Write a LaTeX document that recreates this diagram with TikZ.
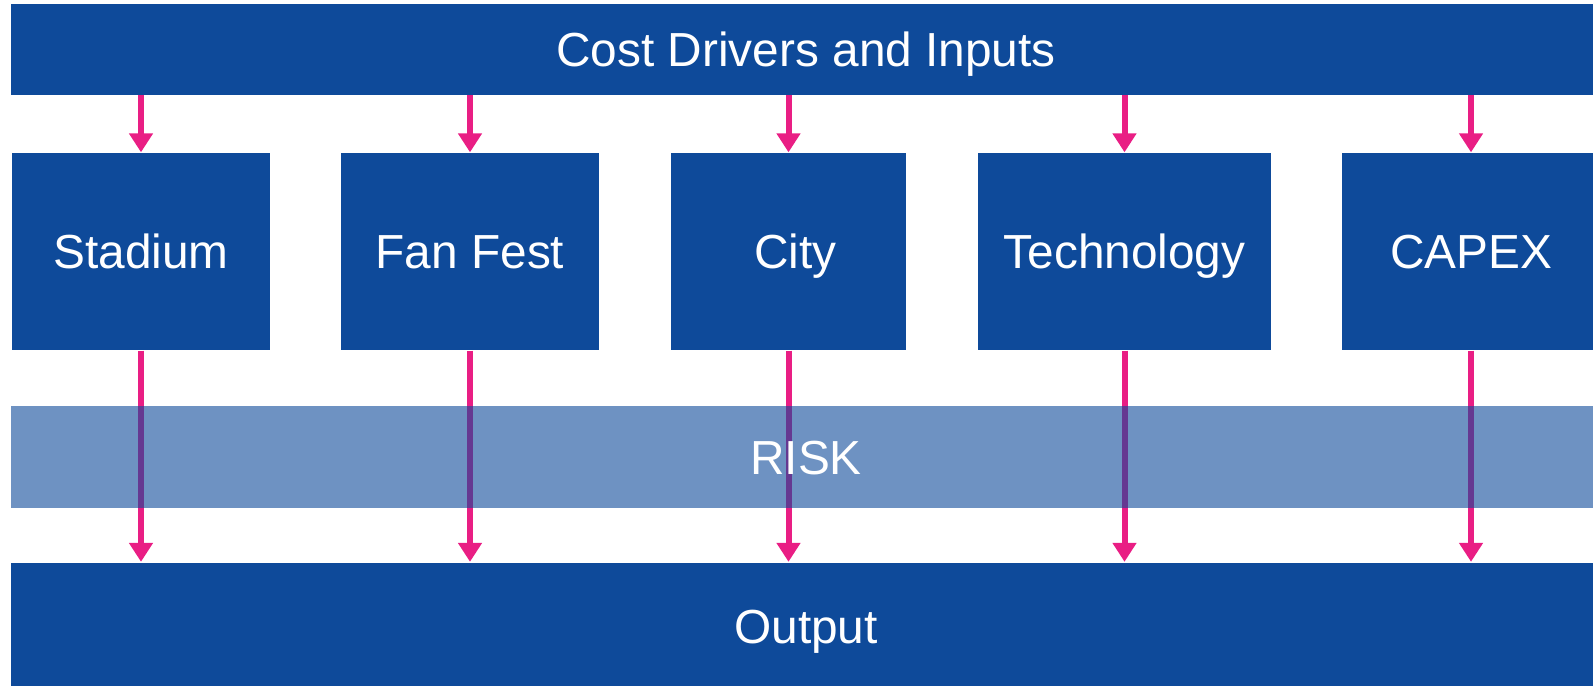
\documentclass[tikz,border=0pt]{standalone}
\usepackage{fontspec}
\setmainfont{Liberation Sans}
\usetikzlibrary{arrows.meta}

\definecolor{darkblue}{RGB}{14,74,154}
\definecolor{pinkline}{RGB}{233,30,132}

\tikzset{
  block/.style={fill=darkblue, text=white, inner sep=0pt, text height=0.97em, text depth=0pt,
    font=\fontsize{13.6}{16}\selectfont},
  feed/.style={pinkline, line width=0.6mm, -{Triangle[width=2.3mm,length=1.9mm]}}
}

\begin{document}
\begin{tikzpicture}[x=0.1mm, y=-0.1mm]
			\useasboundingbox (0,0) rectangle (1593,685); % page
			% bars
			\node[block, minimum width=159mm, minimum height=9.05mm] (inputs) at (806,49.25) {Cost Drivers and Inputs};
			\node[block, minimum width=159mm, minimum height=12.7mm] (output) at (806,626) {Output};
			% cost blocks
			\node[block, minimum width=25.8mm, minimum height=19.7mm] (stadium) at (141,251.5) {Stadium};
			\node[block, minimum width=25.8mm, minimum height=19.7mm] (fanfest) at (470,251.5) {Fan Fest};
			\node[block, minimum width=23.5mm, minimum height=19.7mm] (city) at (788.5,251.5) {\hspace{1.4mm}City};
			\node[block, minimum width=29.3mm, minimum height=19.7mm] (tech) at (1124.5,251.5) {Technology};
			\node[block, minimum width=25.8mm, minimum height=19.7mm] (capex) at (1471,251.5) {CAPEX};
			% arrows
			\foreach \b in {stadium, fanfest, city, tech, capex} {
				\draw[feed] (inputs.south -| \b) -- (\b.north);
				\draw[feed] (\b.south) -- (output.north -| \b);
			}
			% risk band over the arrows
			\node[block, fill opacity=0.6, text opacity=1, minimum width=159mm, minimum height=10.2mm] (risk) at (806,457) {RISK};
\end{tikzpicture}
\end{document}
